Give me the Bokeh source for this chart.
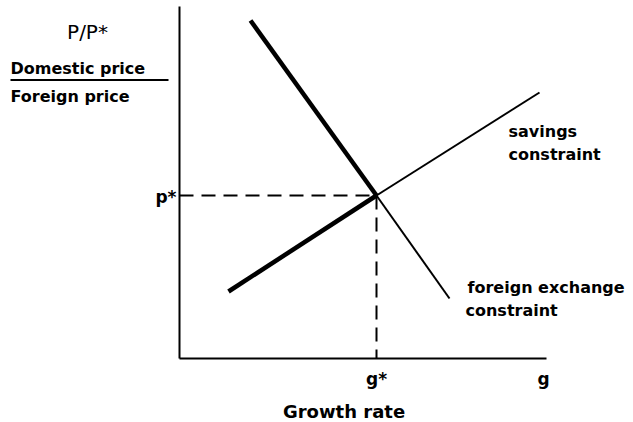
from bokeh.plotting import figure
from bokeh.models import Range1d
from bokeh.core.properties import value
from bokeh.embed import file_html
from bokeh.resources import INLINE

# ---- data (abstract units; origin = axes corner) ----
fx_thick_x = [7.1, 19.7]
fx_thick_y = [33.8, 16.3]
fx_thin_x = [19.7, 27.0]
fx_thin_y = [16.3, 6.0]
sv_thick_x = [4.9, 19.7]
sv_thick_y = [6.7, 16.3]
sv_thin_x = [19.7, 36.0]
sv_thin_y = [16.3, 26.6]
g_star = 19.7
p_star = 16.3
g_end = 36.7
y_top = 35.2
x_ticks = [g_star, 36.4]
x_tick_labels = ["g*", "g"]
y_ticks = [p_star]
y_tick_labels = ["p*"]
x_title = "Growth rate"
y_title = "P/P*"
y_title_num = "Domestic price"
y_title_den = "Foreign price"
sav_label = ["savings", "constraint"]
fx_label = ["foreign exchange", "constraint"]

FONT = "DejaVu Sans"
INK = "black"

p = figure(width=633, height=422, output_backend="svg", toolbar_location=None,
           x_range=Range1d(-17.9, 45.4), y_range=Range1d(-6.4, 35.8),
           min_border=0)
p.axis.visible = False
p.grid.visible = False
p.outline_line_color = None
p.background_fill_color = "white"
p.border_fill_color = "white"

# axes
p.line([0, g_end], [0, 0], line_color=INK, line_width=2)
p.line([0, 0], [0, y_top], line_color=INK, line_width=2)

# tick labels
p.text(x=x_ticks, y=[-2.0] * len(x_ticks), text=x_tick_labels,
       text_font=value(FONT), text_font_size="17px", text_font_style="bold", text_color=INK,
       text_align="center", text_baseline="middle")
p.text(x=[-0.3] * len(y_ticks), y=[t - 0.1 for t in y_ticks], text=y_tick_labels,
       text_font=value(FONT), text_font_size="17px", text_font_style="bold", text_color=INK,
       text_align="right", text_baseline="middle")

# axis titles
p.text(x=[16.45], y=[-5.3], text=[x_title], text_font=value(FONT), text_font_size="18px",
       text_font_style="bold", text_color=INK, text_align="center", text_baseline="middle")
p.text(x=[-9.2], y=[32.65], text=[y_title], text_font=value(FONT), text_font_size="20px",
       text_color=INK, text_align="center", text_baseline="middle")
p.text(x=[-16.9, -16.9], y=[29.0, 26.2], text=[y_title_num, y_title_den],
       text_font=value(FONT), text_font_size="16px", text_font_style="bold", text_color=INK,
       text_align="left", text_baseline="middle")
p.line([-16.9, -1.1], [27.85, 27.85], line_color=INK, line_width=2)

# dashed guides
p.line([0, g_star], [p_star, p_star], line_color=INK, line_width=2, line_dash="14 8")
p.line([g_star, g_star], [p_star, 0], line_color=INK, line_width=2, line_dash="14 8")

# constraint lines
p.line(fx_thick_x, fx_thick_y, line_color=INK, line_width=4.5)
p.line(fx_thin_x, fx_thin_y, line_color=INK, line_width=2)
p.line(sv_thick_x, sv_thick_y, line_color=INK, line_width=4.5)
p.line(sv_thin_x, sv_thin_y, line_color=INK, line_width=2)

# curve labels
p.text(x=[32.9, 32.9], y=[22.7, 20.4], text=sav_label,
       text_font=value(FONT), text_font_size="16px", text_font_style="bold", text_color=INK,
       text_baseline="middle", text_align="left")
p.text(x=[28.8, 28.6], y=[7.1, 4.8], text=fx_label,
       text_font=value(FONT), text_font_size="16px", text_font_style="bold", text_color=INK,
       text_baseline="middle", text_align="left")

open("out.html", "w").write(file_html(p, INLINE))
